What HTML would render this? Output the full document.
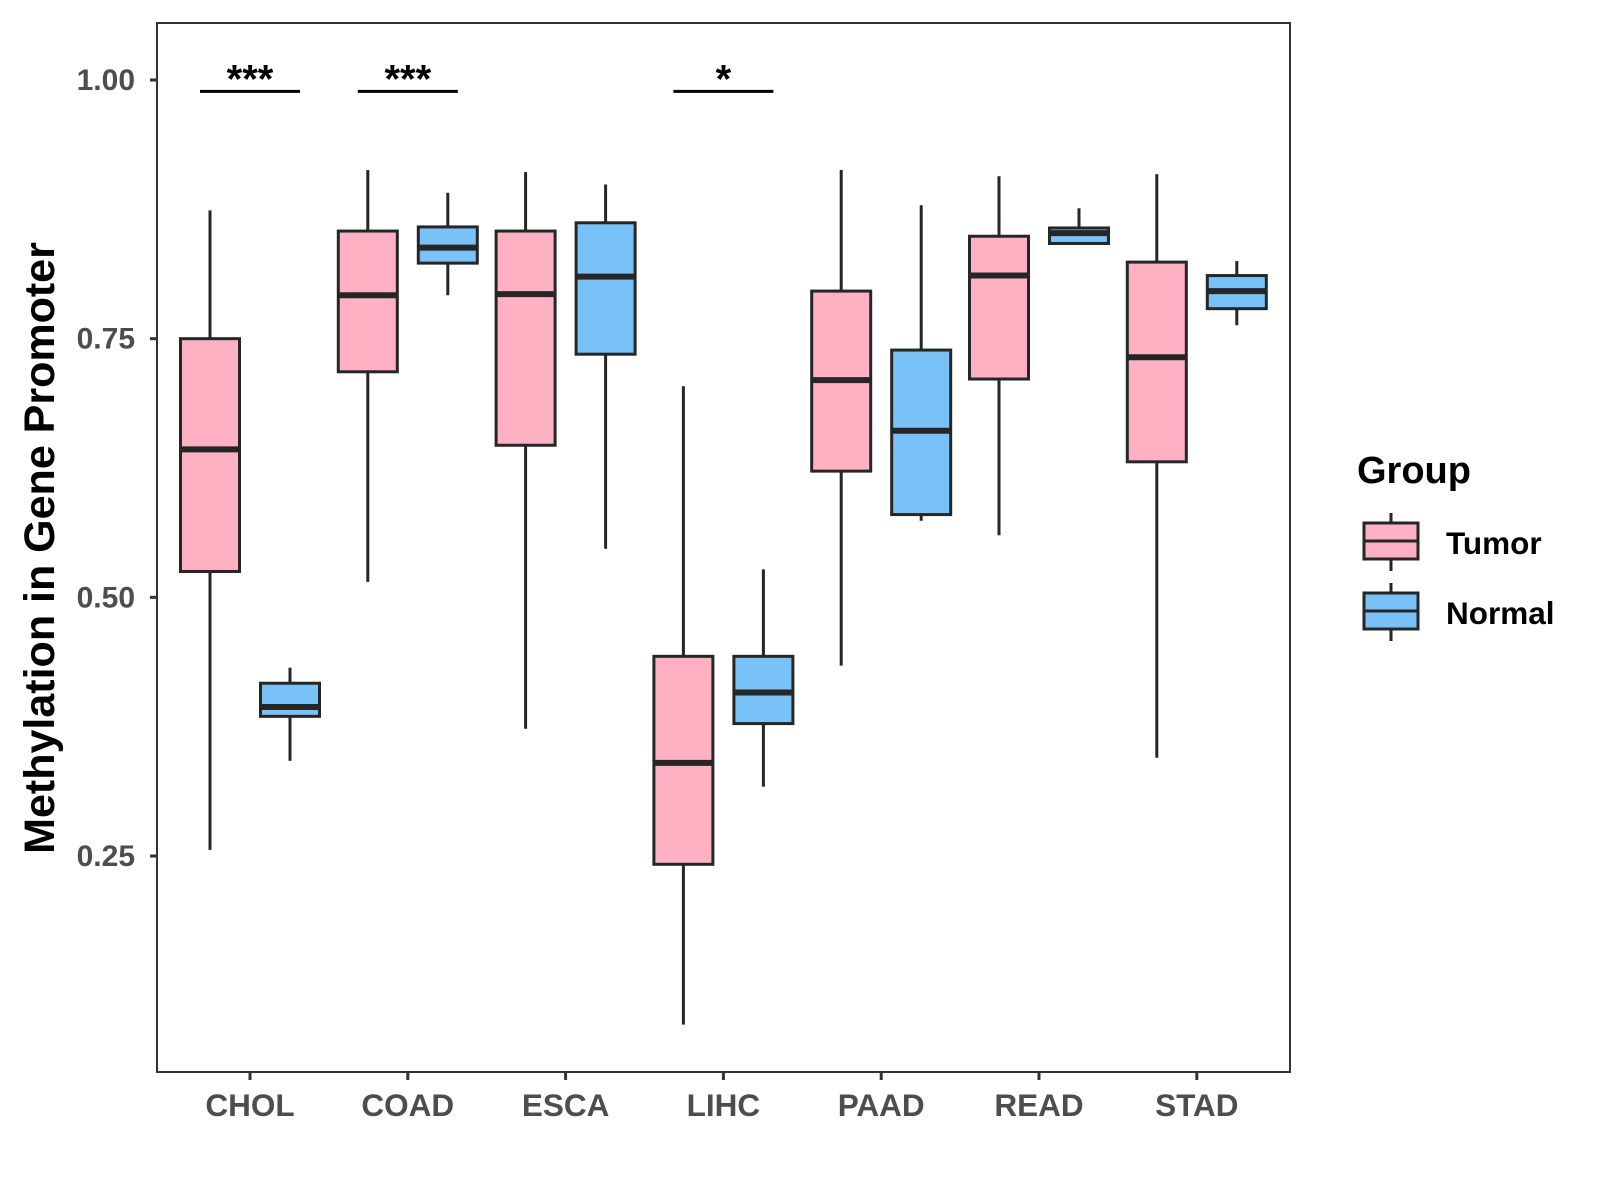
<!DOCTYPE html>
<html><head><meta charset="utf-8"><style>
html,body{margin:0;padding:0;background:#fff;}
svg{display:block;font-family:"Liberation Sans",Arial,sans-serif;font-weight:bold;}
</style></head><body>
<svg id="chart" width="1600" height="1200" viewBox="0 0 1600 1200"></svg>
<script>
const categories = ["CHOL","COAD","ESCA","LIHC","PAAD","READ","STAD"];
const groups = ["Tumor","Normal"];
// [whiskerLow, Q1, median, Q3, whiskerHigh]
const tumorStats = [
 [0.256,0.525,0.643,0.750,0.874],
 [0.515,0.718,0.792,0.854,0.913],
 [0.373,0.647,0.793,0.854,0.911],
 [0.087,0.242,0.340,0.443,0.704],
 [0.434,0.622,0.710,0.796,0.913],
 [0.560,0.711,0.811,0.849,0.907],
 [0.345,0.631,0.732,0.824,0.909]
];
const normalStats = [
 [0.342,0.385,0.394,0.417,0.432],
 [0.792,0.823,0.838,0.858,0.891],
 [0.547,0.735,0.810,0.862,0.899],
 [0.317,0.378,0.408,0.443,0.527],
 [0.574,0.580,0.661,0.739,0.879],
 [0.842,0.842,0.852,0.857,0.876],
 [0.763,0.779,0.796,0.811,0.825]
];
const yTicks = [0.25,0.50,0.75,1.00];
const yTickLabels = ["0.25","0.50","0.75","1.00"];
const sigCategories = ["CHOL","COAD","LIHC"];
const sigLabels = ["***","***","*"];
const sigLevel = 0.989;

const NS="http://www.w3.org/2000/svg";
const svg=document.getElementById('chart');
const L=157,R=1290,T=23,B=1072;
function y(v){return 80+(1-v)*1034.7;}
function x(i){return 250+i*157.8;}
const fills=["#FFB1C4","#78C2F8"];
const stroke="#262626";
function mk(tag,attrs,parent){const e=document.createElementNS(NS,tag);for(const k in attrs)e.setAttribute(k,attrs[k]);(parent||svg).appendChild(e);return e;}

const panel=mk('rect',{x:L,y:T,width:R-L,height:B-T,fill:'#fff',stroke:'#333','stroke-width':2});



yTicks.forEach((v,i)=>{
 const t=mk('line',{x1:L-7,x2:L,y1:y(v),y2:y(v),stroke:'#333','stroke-width':3});
 
 
 const tx=mk('text',{x:L-22,y:y(v)+10,'text-anchor':'end','font-size':30,fill:'#4d4d4d'});
 tx.textContent=yTickLabels[i];
 
 
});
categories.forEach((c,i)=>{
 const t=mk('line',{x1:x(i),x2:x(i),y1:B,y2:B+8,stroke:'#333','stroke-width':3});
 
 
 const tx=mk('text',{x:x(i),y:B+44,'text-anchor':'middle','font-size':31.5,fill:'#4d4d4d'});
 tx.textContent=c;
 
 
});

function box(cx,s,fill,name,w){
 const g=mk('g',{});
 
 
 mk('line',{x1:cx,x2:cx,y1:y(s[4]),y2:y(s[3]),stroke:stroke,'stroke-width':3},g);
 mk('line',{x1:cx,x2:cx,y1:y(s[1]),y2:y(s[0]),stroke:stroke,'stroke-width':3},g);
 mk('rect',{x:cx-w/2,y:y(s[3]),width:w,height:Math.max(0,y(s[1])-y(s[3])),fill:fill,stroke:stroke,'stroke-width':3},g);
 mk('line',{x1:cx-w/2,x2:cx+w/2,y1:y(s[2]),y2:y(s[2]),stroke:stroke,'stroke-width':6},g);
}
categories.forEach((c,i)=>{
 box(x(i)-40,tumorStats[i],fills[0],'box-tumor-'+c.toLowerCase(),59);
 box(x(i)+40,normalStats[i],fills[1],'box-normal-'+c.toLowerCase(),59);
});

sigCategories.forEach((c,k)=>{
 const i=categories.indexOf(c);
 const l=mk('line',{x1:x(i)-50,x2:x(i)+50,y1:y(sigLevel),y2:y(sigLevel),stroke:'#000','stroke-width':3});
 
 
 const t=mk('text',{x:x(i),y:y(sigLevel)+1,'text-anchor':'middle','font-size':40,fill:'#000'});
 t.textContent=sigLabels[k];
 
 
});

const yt=mk('text',{x:0,y:0,'text-anchor':'middle','font-size':43,fill:'#000',transform:'translate(54,548) rotate(-90)'});
yt.textContent='Methylation in Gene Promoter';



const lt=mk('text',{x:1357,y:483,'font-size':38,fill:'#000'});
lt.textContent='Group';


groups.forEach((gname,k)=>{
 const top=523+k*70;
 const g=mk('g',{});
 
 
 mk('line',{x1:1391,x2:1391,y1:top-10,y2:top+48,stroke:stroke,'stroke-width':3},g);
 mk('rect',{x:1364,y:top,width:54,height:36,fill:fills[k],stroke:stroke,'stroke-width':3},g);
 mk('line',{x1:1364,x2:1418,y1:top+18,y2:top+18,stroke:stroke,'stroke-width':3},g);
 const t=mk('text',{x:1446,y:top+31,'font-size':31.5,fill:'#000'},g);
 t.textContent=gname;
});
</script>
</body></html>
